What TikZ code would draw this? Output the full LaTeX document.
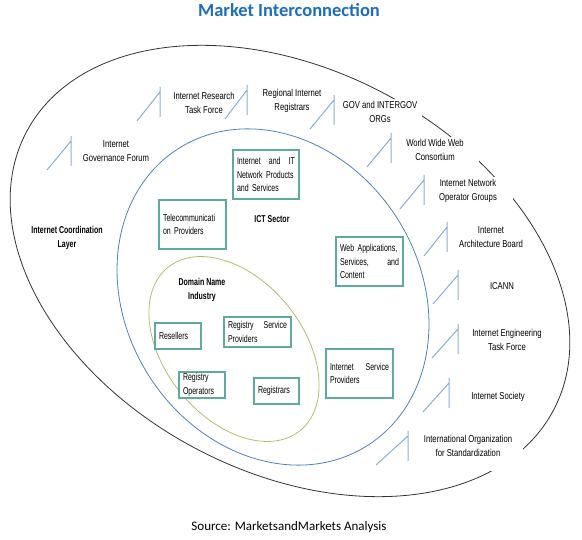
\documentclass[tikz,border=0pt]{standalone}
\usepackage{fontspec}
\setmainfont{Liberation Sans}[FakeStretch=0.77]
\newfontfamily\boxfont{Liberation Sans}[FakeStretch=0.7]
\newfontfamily\calibri{Carlito}
\definecolor{titleblue}{RGB}{30,110,185}
\definecolor{ictblue}{RGB}{79,129,189}
\definecolor{dnsolive}{RGB}{185,185,110}
\definecolor{boxteal}{RGB}{95,170,160}
\definecolor{callblue}{RGB}{140,172,210}

\begin{document}
\begin{tikzpicture}[x=1pt,y=-1pt,
  orglabel/.style={font=\fontsize{10}{14}\selectfont,align=center,fill=white,inner sep=2pt},
  layerlabel/.style={font=\boxfont\bfseries\fontsize{10}{14}\selectfont,align=center},
  sectorbox/.style={draw=boxteal,line width=1.1pt,fill=white,align=left,
    font=\boxfont\fontsize{10}{13.5}\selectfont,inner xsep=4pt,inner ysep=0pt},
  calloutline/.style={draw=callblue,line width=1pt}]
\useasboundingbox (0,0) rectangle (582,540);

% title and source
\node[anchor=base,text=titleblue,font=\calibri\bfseries\fontsize{18.5}{20}\selectfont] (title) at (289,16.5) {Market Interconnection};
\node[anchor=base,font=\calibri\fontsize{13}{15}\selectfont] (source) at (289,531) {Source: MarketsandMarkets Analysis};

% internet coordination layer
\draw[black!80,line width=0.8pt,rotate around={-27.8:(290,271)}] (290,271) ellipse [x radius=298, y radius=201];
\node[layerlabel] (coord) at (67,238) {Internet Coordination\\Layer};

\node[orglabel] (igf) at (116,151) {Internet\\Governance Forum};
\node[orglabel] (irtf) at (204,103) {Internet Research\\Task Force};
\node[orglabel] (rir) at (292,101) {Regional Internet\\Registrars};
\node[orglabel,minimum width=84] (gov) at (380,112) {GOV and INTERGOV\\ORGs};
\node[orglabel,minimum width=88] (w3c) at (435,149.5) {World Wide Web\\Consortium};
\node[orglabel,minimum width=90] (inog) at (468,191) {Internet Network\\Operator Groups};
\node[orglabel] (iab) at (491,237) {Internet\\Architecture Board};
\node[orglabel] (icann) at (502,286) {ICANN};
\node[orglabel] (ietf) at (507,340) {Internet Engineering\\Task Force};
\node[orglabel] (isoc) at (498,397) {Internet Society};
\node[orglabel,minimum width=110,minimum height=50] (iso) at (468,446) {International Organization\\for Standardization};

\foreach \v/\t/\d in {71/136/24, 160/87/23, 247/85/22, 334/95/24, 391/133/24, 424/175/24,
    447/222/23, 458/270/25, 458/324/26, 449/378/26, 408/431/32}
  \draw[calloutline] (\v,\t) -- (\v,\t+30) (\v-\d,\t+34) -- (\v,\t+5);

% ICT sector
\draw[ictblue,line width=0.8pt,rotate around={-57.4:(273,297)}] (273,297) ellipse [x radius=176, y radius=147];
\node[layerlabel] (ict) at (272,219) {ICT Sector};

\node[sectorbox,text width=58,minimum height=49] (itnet) at (266,174.5) {Internet\hfill and\hfill IT\\\mbox{Network Products}\\and Services};
\node[sectorbox,text width=59,minimum height=49] (telecom) at (192.5,224.5) {Telecommunicati\\on Providers};
\node[sectorbox,text width=59,minimum height=49] (webapps) at (369.5,261.5) {\mbox{Web Applications,}\\Services,\hfill and\\Content};
\node[sectorbox,text width=59,minimum height=49] (isp) at (359.5,373.5) {Internet\hfill Service\\Providers};

% domain name industry
\draw[dnsolive,line width=0.8pt,rotate around={-51:(234,349)}] (234,349) ellipse [x radius=105, y radius=69];
\node[layerlabel] (dns) at (202,290) {Domain Name\\Industry};

\node[sectorbox,text width=38,minimum height=26] (resellers) at (178,336) {Resellers};
\node[sectorbox,text width=59,minimum height=30] (rsp) at (257.5,332) {Registry\hfill Service\\Providers};
\node[sectorbox,text width=38,minimum height=26] (regops) at (202,385) {Registry\\Operators};
\node[sectorbox,text width=37,minimum height=26] (registrars) at (276.5,391) {Registrars};
\end{tikzpicture}
\end{document}
